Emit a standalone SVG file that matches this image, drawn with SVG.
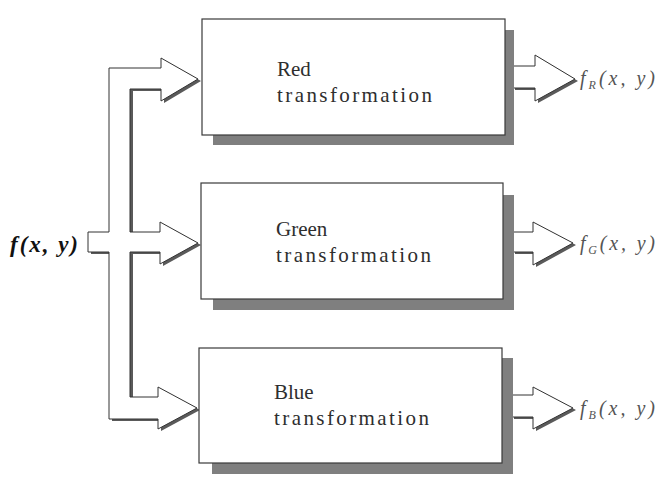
<svg xmlns="http://www.w3.org/2000/svg" width="671" height="490" viewBox="0 0 671 490">
  <style>
    .shadow { fill: #7f7f7f; }
    .box { fill: #ffffff; stroke: #3a3a3a; stroke-width: 1.2; }
    .label { font-family: "Liberation Serif", "Times New Roman", "DejaVu Serif", serif; font-size: 21px; fill: #2e2e2e; }
    .arrow { fill: #ffffff; stroke: #333333; stroke-width: 1; stroke-linejoin: miter; }
    .arrow-shadow { fill: #5a5a5a; }
    .in-label { font-family: "Liberation Serif", "Times New Roman", "DejaVu Serif", serif; font-size: 23px; font-weight: bold; font-style: italic; fill: #111111; }
    .out-label { font-family: "Liberation Serif", "Times New Roman", "DejaVu Serif", serif; font-size: 20px; font-style: italic; fill: #555555; }
    .sub { font-size: 12px; }
  </style>

  <!-- input bus: stub from f(x,y) splitting into three hollow arrows -->
  <g id="connectors">
    <g id="input-bus">
      <path class="arrow-shadow" transform="translate(3,2)" d="M88,232 L109,232 L109,68 L161,68 L161,58 L198,79 L161,101 L161,89 L130,89 L130,232 L160,232 L160,222 L198,243 L160,264 L160,252 L130,252 L130,397 L158,397 L158,387 L197,408 L158,429 L158,419 L109,419 L109,252 L88,252 Z"/>
      <path class="arrow" d="M88,232 L109,232 L109,68 L161,68 L161,58 L198,79 L161,101 L161,89 L130,89 L130,232 L160,232 L160,222 L198,243 L160,264 L160,252 L130,252 L130,397 L158,397 L158,387 L197,408 L158,429 L158,419 L109,419 L109,252 L88,252 Z"/>
    </g>
    <!-- output arrows -->
    <g id="out-red">
      <path class="arrow-shadow" transform="translate(3,2)" d="M512,66 L535,66 L535,55 L575,79 L535,101 L535,88 L512,88 Z"/>
      <path class="arrow" d="M512,66 L535,66 L535,55 L575,79 L535,101 L535,88 L512,88 Z"/>
    </g>
    <g id="out-green">
      <path class="arrow-shadow" transform="translate(3,2)" d="M512,232 L533,232 L533,222 L573,243 L533,265 L533,252 L512,252 Z"/>
      <path class="arrow" d="M512,232 L533,232 L533,222 L573,243 L533,265 L533,252 L512,252 Z"/>
    </g>
    <g id="out-blue">
      <path class="arrow-shadow" transform="translate(3,2)" d="M511,395 L533,395 L533,387 L573,408 L533,429 L533,417 L511,417 Z"/>
      <path class="arrow" d="M511,395 L533,395 L533,387 L573,408 L533,429 L533,417 L511,417 Z"/>
    </g>
  </g>

  <g id="node-red">
    <rect class="shadow" x="213" y="30" width="301" height="115"/>
    <rect class="box" x="202" y="19" width="303" height="116"/>
    <text class="label" x="277" y="76">Red</text>
    <text class="label" x="277" y="102" textLength="155" lengthAdjust="spacing">transformation</text>
  </g>

  <g id="node-green">
    <rect class="shadow" x="213" y="195" width="301" height="115"/>
    <rect class="box" x="201" y="183" width="302" height="116"/>
    <text class="label" x="276" y="236">Green</text>
    <text class="label" x="276" y="262" textLength="155" lengthAdjust="spacing">transformation</text>
  </g>

  <g id="node-blue">
    <rect class="shadow" x="212" y="358" width="301" height="116"/>
    <rect class="box" x="199" y="348" width="303" height="115"/>
    <text class="label" x="274" y="399">Blue</text>
    <text class="label" x="274" y="425" textLength="155" lengthAdjust="spacing">transformation</text>
  </g>

  <g id="input-label">
    <text class="in-label" x="10" y="252" textLength="68" lengthAdjust="spacing">f(x, y)</text>
  </g>

  <g id="output-labels">
    <text class="out-label" x="580" y="85" textLength="75" lengthAdjust="spacing">f<tspan class="sub" dy="4">R</tspan><tspan dy="-4">(x, y)</tspan></text>
    <text class="out-label" x="580" y="250" textLength="75" lengthAdjust="spacing">f<tspan class="sub" dy="4">G</tspan><tspan dy="-4">(x, y)</tspan></text>
    <text class="out-label" x="580" y="415" textLength="75" lengthAdjust="spacing">f<tspan class="sub" dy="4">B</tspan><tspan dy="-4">(x, y)</tspan></text>
  </g>
</svg>
